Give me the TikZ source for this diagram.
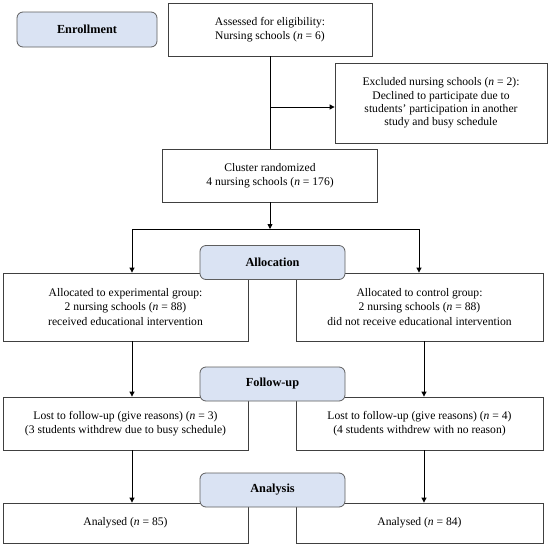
\documentclass[tikz,border=0pt]{standalone}
\usepackage{fontspec}
\setmainfont{Liberation Serif}
\usetikzlibrary{arrows.meta}
\definecolor{lblfill}{HTML}{DAE3F3}
\definecolor{lbldraw}{HTML}{5E5E5E}
\definecolor{boxdraw}{HTML}{404040}
\tikzset{
  flowbox/.style={draw=boxdraw, line width=0.8pt, fill=white, align=center, inner sep=2pt, font=\fontsize{11.6}{14.5}\selectfont},
  phase/.style={draw=lbldraw, line width=0.8pt, fill=lblfill, rounded corners=6pt, align=center, minimum width=145pt, minimum height=34pt, font=\fontsize{12.3}{14}\selectfont\bfseries},
  conn/.style={line width=0.8pt, draw=black},
  arr/.style={conn, -{Triangle[length=5pt,width=5pt]}}
}
\newcommand{\nn}{\textit{n}}
\begin{document}
\begin{tikzpicture}[x=1pt,y=-1pt]
\useasboundingbox (0,0) rectangle (550,547);
% boxes
\node[flowbox, minimum width=204pt, minimum height=53pt] (assess) at (270,29.5) {Assessed for eligibility:\\Nursing schools (\nn{} = 6)};
\node[flowbox, minimum width=212pt, minimum height=80pt, font=\fontsize{11.6}{13.4}\selectfont] (excl) at (441,103) {Excluded nursing schools (\nn{} = 2):\\Declined to participate due to\\students' participation in another\\study and busy schedule};
\node[flowbox, minimum width=215pt, minimum height=53pt] (cluster) at (270,175.5) {Cluster randomized\\4 nursing schools (\nn{} = 176)};
\node[flowbox, minimum width=245pt, minimum height=68pt] (expL) at (125.5,307) {Allocated to experimental group:\\2 nursing schools (\nn{} = 88)\\received educational intervention};
\node[flowbox, minimum width=247pt, minimum height=68pt] (expR) at (419.5,307) {Allocated to control group:\\2 nursing schools (\nn{} = 88)\\did not receive educational intervention};
\node[flowbox, minimum width=245pt, minimum height=53pt] (lostL) at (125.5,423.5) {Lost to follow-up (give reasons) (\nn{} = 3)\\(3 students withdrew due to busy schedule)};
\node[flowbox, minimum width=247pt, minimum height=53pt] (lostR) at (419.5,423.5) {Lost to follow-up (give reasons) (\nn{} = 4)\\(4 students withdrew with no reason)};
\node[flowbox, minimum width=245pt, minimum height=40pt] (anL) at (125.5,523) {Analysed (\nn{} = 85)};
\node[flowbox, minimum width=247pt, minimum height=40pt] (anR) at (419.5,523) {Analysed (\nn{} = 84)};
% phase labels
\node[phase, minimum width=140pt, minimum height=35pt] (enr) at (87,29.5) {Enrollment};
\node[phase] (alloc) at (272.5,262.5) {Allocation};
\node[phase] (follow) at (272.5,384) {Follow-up};
\node[phase] (analysis) at (272.5,490) {Analysis};
% connectors
\coordinate (br) at (270,107);
\coordinate (split) at (270,229);
\coordinate (sl) at (132,229);
\coordinate (sr) at (419,229);
\draw[conn] (assess.south) -- (cluster.north);
\draw[arr] (br) -- (br -| excl.west);
\draw[arr] (cluster.south) -- (split);
\draw[conn] (sl) -- (sr);
\draw[arr] (sl) -- (sl |- expL.north);
\draw[arr] (sr) -- (sr |- expR.north);
\coordinate (l2) at (132,0);
\coordinate (r2) at (424,0);
\draw[arr] (l2 |- expL.south) -- (l2 |- lostL.north);
\draw[arr] (r2 |- expR.south) -- (r2 |- lostR.north);
\draw[arr] (l2 |- lostL.south) -- (l2 |- anL.north);
\draw[arr] (r2 |- lostR.south) -- (r2 |- anR.north);
\end{tikzpicture}
\end{document}
